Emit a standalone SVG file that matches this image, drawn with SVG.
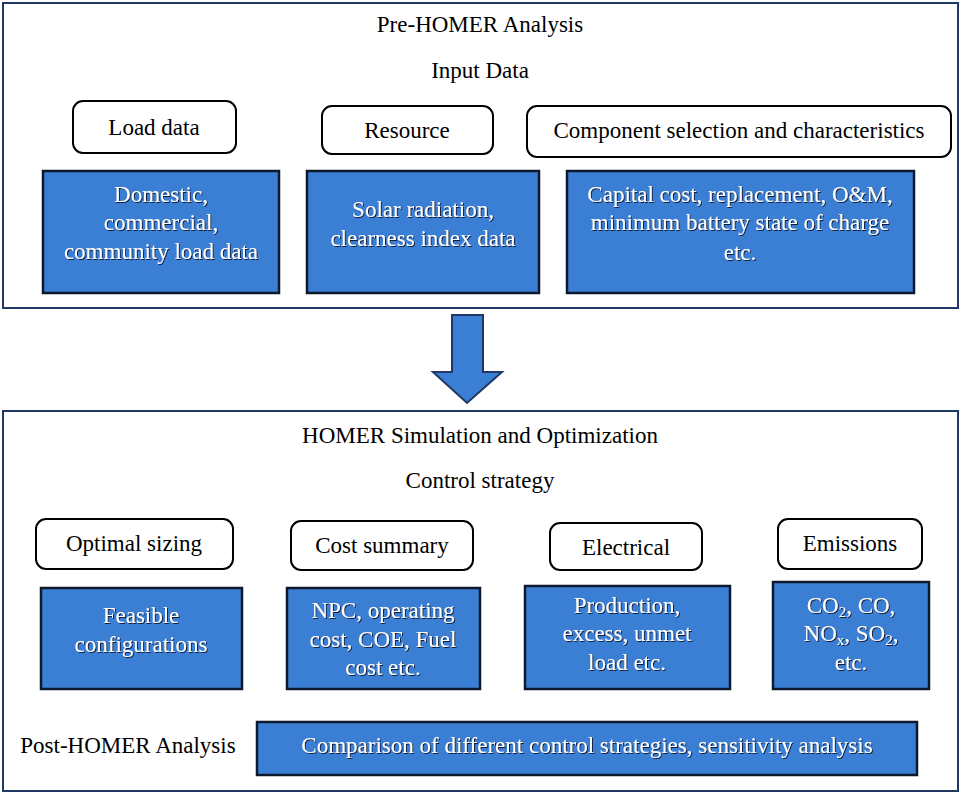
<svg xmlns="http://www.w3.org/2000/svg" width="962" height="794" viewBox="0 0 962 794">
<style>
.frame{fill:#fff;stroke:#1f3864;stroke-width:2}
.lbl{fill:#fff;stroke:#000;stroke-width:2}
.blue{fill:#3b7fd5;stroke:#0d1a2e;stroke-width:2.5}
.t{font-family:'Liberation Serif','Times New Roman',serif;font-size:23px;fill:#000;text-anchor:middle}
.w{font-family:'Liberation Serif','Times New Roman',serif;font-size:23px;fill:#fff;text-anchor:middle;filter:url(#sh)}
.sub{font-size:15px}
</style>
<defs>
<filter id="sh" x="-10%" y="-30%" width="120%" height="160%">
<feDropShadow dx="1" dy="1" stdDeviation="0.6" flood-color="#0a1630" flood-opacity="0.95"/>
</filter>
</defs>
<rect width="962" height="794" fill="#fff"/>

<g id="pre-frame">
<rect class="frame" x="3" y="3" width="955" height="305"/>
<text class="t" x="480" y="32">Pre-HOMER Analysis</text>
<text class="t" x="480" y="78">Input Data</text>
</g>

<g id="load-data">
<rect class="lbl" x="73" y="101" width="163" height="52" rx="10"/>
<text class="t" x="154" y="135">Load data</text>
</g>
<g id="resource">
<rect class="lbl" x="322" y="106" width="171" height="48" rx="10"/>
<text class="t" x="407" y="138">Resource</text>
</g>
<g id="component">
<rect class="lbl" x="527" y="106" width="424" height="51" rx="10"/>
<text class="t" x="739" y="138">Component selection and characteristics</text>
</g>

<g id="domestic">
<rect class="blue" x="43" y="171" width="236" height="122"/>
<text class="w" x="161" y="202">Domestic,</text>
<text class="w" x="161" y="230">commercial,</text>
<text class="w" x="161" y="259">community load data</text>
</g>
<g id="solar">
<rect class="blue" x="307" y="171" width="232" height="122"/>
<text class="w" x="423" y="217">Solar radiation,</text>
<text class="w" x="423" y="246">clearness index data</text>
</g>
<g id="capital">
<rect class="blue" x="567" y="171" width="347" height="122"/>
<text class="w" x="740" y="202">Capital cost, replacement, O&amp;M,</text>
<text class="w" x="740" y="230">minimum battery state of charge</text>
<text class="w" x="740" y="260">etc.</text>
</g>

<g id="connectors">
<polygon points="452,315 483,315 483,372 502,372 467,403 433,372 452,372" fill="#3b7fd5" stroke="#1f3864" stroke-width="2" stroke-linejoin="miter"/>
</g>

<g id="homer-frame">
<rect class="frame" x="3" y="411" width="955" height="380"/>
<text class="t" x="480" y="443">HOMER Simulation and Optimization</text>
<text class="t" x="480" y="488">Control strategy</text>
</g>

<g id="optimal-sizing">
<rect class="lbl" x="36" y="519" width="197" height="50" rx="10"/>
<text class="t" x="134" y="551">Optimal sizing</text>
</g>
<g id="cost-summary">
<rect class="lbl" x="291" y="521" width="182" height="49" rx="10"/>
<text class="t" x="382" y="553">Cost summary</text>
</g>
<g id="electrical">
<rect class="lbl" x="550" y="523" width="152" height="47" rx="10"/>
<text class="t" x="626" y="555">Electrical</text>
</g>
<g id="emissions">
<rect class="lbl" x="778" y="519" width="144" height="50" rx="10"/>
<text class="t" x="850" y="551">Emissions</text>
</g>

<g id="feasible">
<rect class="blue" x="41" y="588" width="201" height="101"/>
<text class="w" x="141" y="623">Feasible</text>
<text class="w" x="141" y="652">configurations</text>
</g>
<g id="npc">
<rect class="blue" x="287" y="588" width="193" height="101"/>
<text class="w" x="383" y="618">NPC, operating</text>
<text class="w" x="383" y="647">cost, COE, Fuel</text>
<text class="w" x="383" y="675">cost etc.</text>
</g>
<g id="production">
<rect class="blue" x="525" y="586" width="205" height="103"/>
<text class="w" x="627" y="613">Production,</text>
<text class="w" x="627" y="641">excess, unmet</text>
<text class="w" x="627" y="670">load etc.</text>
</g>
<g id="emission-list">
<rect class="blue" x="773" y="582" width="156" height="107"/>
<text class="w" x="851" y="613">CO<tspan class="sub" dy="4">2</tspan><tspan dy="-4">, CO,</tspan></text>
<text class="w" x="851" y="641">NO<tspan class="sub" dy="4">x</tspan><tspan dy="-4">, SO</tspan><tspan class="sub" dy="4">2</tspan><tspan dy="-4">,</tspan></text>
<text class="w" x="851" y="670">etc.</text>
</g>

<g id="post-homer">
<text class="t" x="128" y="753">Post-HOMER Analysis</text>
<rect class="blue" x="257" y="722" width="660" height="53"/>
<text class="w" x="587" y="753">Comparison of different control strategies, sensitivity analysis</text>
</g>
</svg>
